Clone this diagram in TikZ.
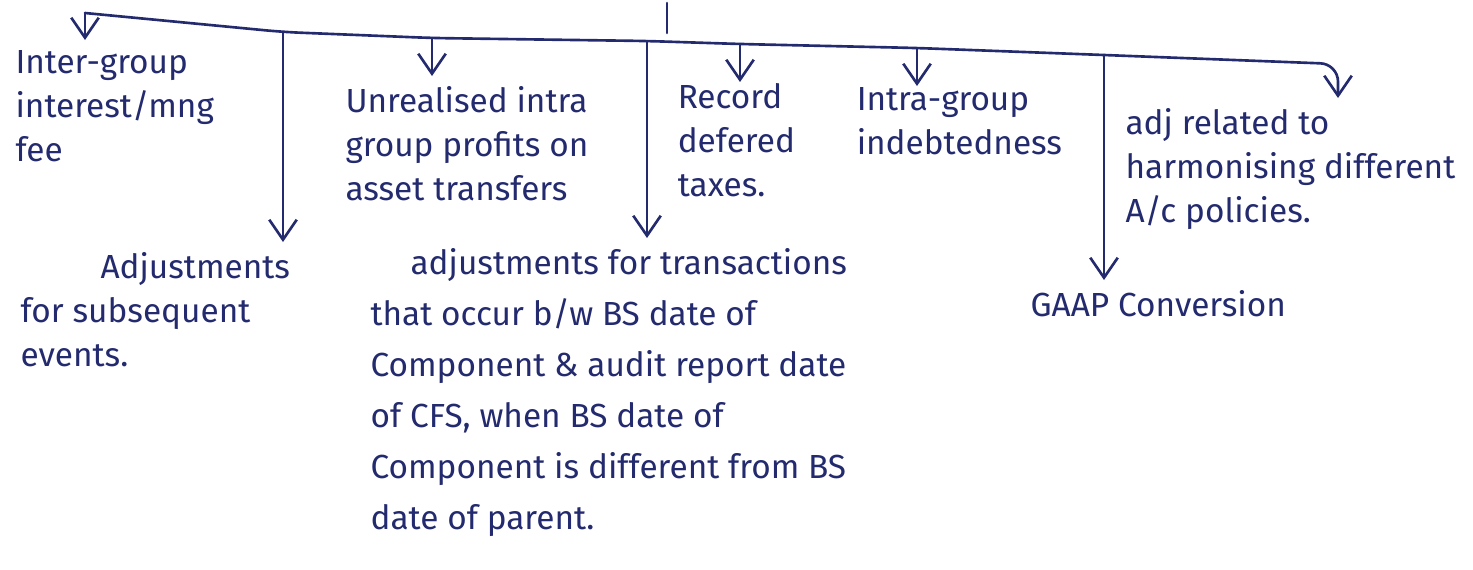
\documentclass[tikz,border=0pt]{standalone}
\usepackage{fontspec}
\setsansfont{Fira Sans}
\usepackage{xcolor}
\definecolor{inkBlue}{HTML}{232A6E}
\usepackage{tikz}
\usetikzlibrary{
    arrows.meta,
    positioning
}
\tikzset{
    % Base style for the handwritten notes
    note/.style={
        font=\sffamily\fontsize{19}{25}\selectfont,
        align=left,
        text=inkBlue,
        inner sep=0pt,
        outer sep=6pt,
        anchor=north west,
    },
    % Long note - wider line spacing
    long note/.style={
        note,
        font=\sffamily\fontsize{19}{29}\selectfont,
    },
    % Plain ink line
    bar/.style={
        draw=inkBlue,
        line width=1.5pt,
        line cap=round,
        line join=round,
    },
    % Arrow with an open V head
    arrow/.style={
        bar,
        -{Straight Barb[length=4mm, width=5.5mm]},
    },
}

\begin{document}
\begin{tikzpicture}[x=0.02cm, y=-0.02cm]
    \useasboundingbox (0,0) rectangle (1473,569);

    % points on the branch line
    \coordinate (b1) at (85,13);
    \coordinate (b2) at (283,32);
    \coordinate (b3) at (432,38);
    \coordinate (b4) at (647,41);
    \coordinate (b5) at (740,44);
    \coordinate (b6) at (917,48);
    \coordinate (b7) at (1104,55);
    \coordinate (b8) at (1338,64);
    \coordinate (tick) at (667,3);
    \coordinate (tick end) at (667,33);

    \node (ig) [note] at (5,40) {Inter-group\\interest/mng\\fee};
    \node (ur) [note] at (335,76) {Unrealised intra\\group profits on\\asset transfers};
    \node (rd) [note, outer sep=1pt] at (676,82) {Record\\defered\\taxes.};
    \node (id) [note, outer sep=1pt] at (855,86) {Intra-group\\indebtedness};
    \node (hm) [note] at (1115,98) {adj related to\\harmonising different\\A/c policies.};
    \node (se) [note] at (10,242) {\hspace*{1.6cm}Adjustments\\for subsequent\\events.};
    \node (tr) [long note] at (360,238) {\hspace*{0.8cm}adjustments for transactions\\that occur b/w BS date of\\Component \& audit report date\\of CFS, when BS date of\\Component is different from BS\\date of parent.};
    \node (gc) [note] at (1020,280) {GAAP Conversion};

    \draw [bar] (tick) -- (tick end);
    \draw [arrow, rounded corners=10pt] (b1) -- (b2) -- (b3) -- (b4) -- (b5) -- (b6) -- (b7) -- (b8) -- (b8 |- hm.north);
    \draw [arrow] (b1) -- (b1 |- ig.north);
    \draw [arrow] (b2) -- (b2 |- se.north);
    \draw [arrow] (b3) -- (b3 |- ur.north);
    \draw [arrow] (b4) -- (b4 |- tr.north);
    \draw [arrow] (b5) -- (b5 |- rd.north);
    \draw [arrow] (b6) -- (b6 |- id.north);
    \draw [arrow] (b7) -- (b7 |- gc.north);
\end{tikzpicture}
\end{document}
